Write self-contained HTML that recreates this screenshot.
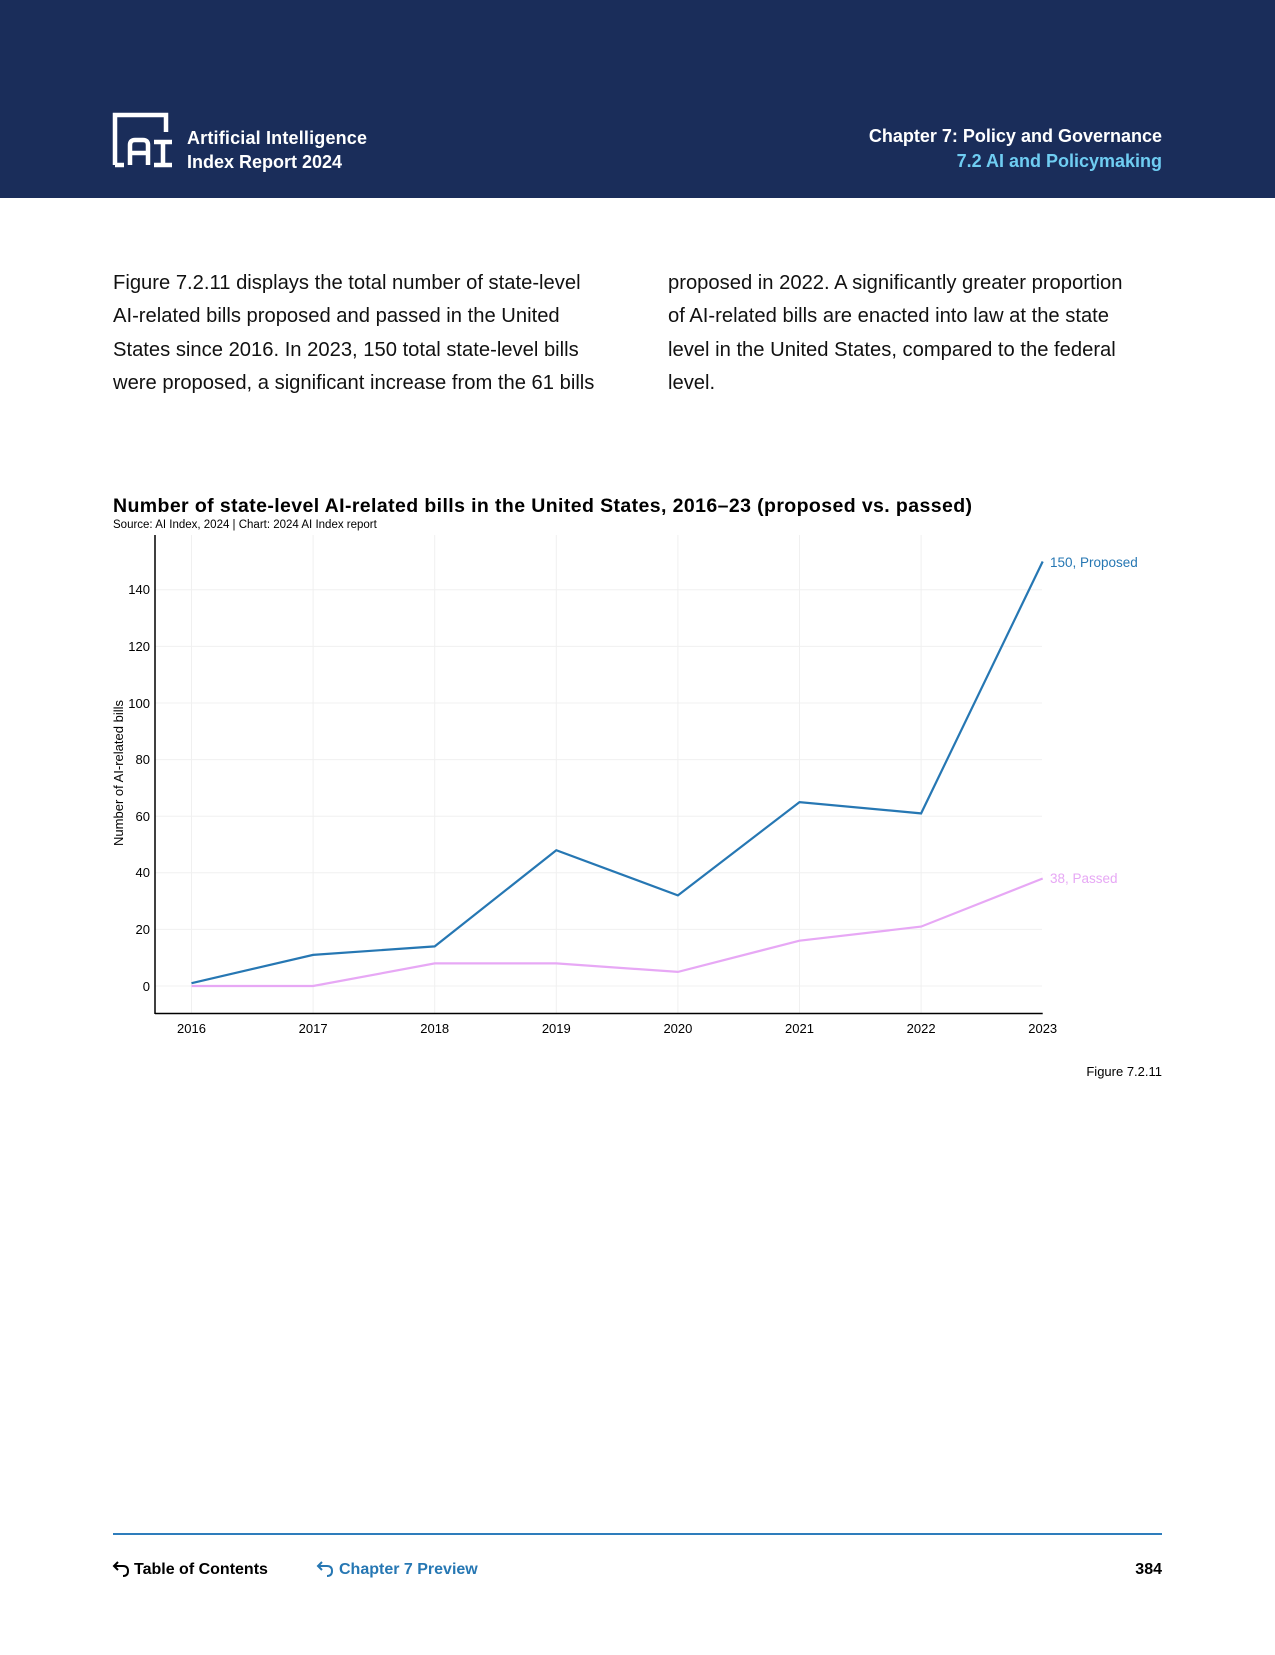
<!DOCTYPE html>
<html><head><meta charset="utf-8"><style>
html,body{margin:0;padding:0;background:#fff;}
body{width:1275px;height:1650px;overflow:hidden;font-family:"Liberation Sans",sans-serif;}
</style></head><body>
<svg width="1275" height="1650" viewBox="0 0 1275 1650" xmlns="http://www.w3.org/2000/svg" font-family="Liberation Sans, sans-serif">
<rect x="0" y="0" width="1275" height="198" fill="#1a2d5a"/>
<!-- logo -->
<g fill="none" stroke="#fff" stroke-width="4.5">
<path d="M115 165 V115 H166 V132"/>
<path d="M115 165 H124"/>
<path d="M130 165 V145 Q130 140 135 140 H143 Q148 140 148 145 V165 M130 153 H148"/>
<path d="M154 142 H172 M163 142 V165 M154 165 H172"/>
</g>
<text x="187" y="144" fill="#fff" font-size="18" font-weight="bold" textLength="180">Artificial Intelligence</text>
<text x="187" y="168" fill="#fff" font-size="18" font-weight="bold">Index Report 2024</text>
<text x="1162" y="142" fill="#fff" font-size="18" font-weight="bold" text-anchor="end">Chapter 7: Policy and Governance</text>
<text x="1162" y="167" fill="#6fcdf2" font-size="18" font-weight="bold" text-anchor="end">7.2 AI and Policymaking</text>

<g font-size="20.2" fill="#111">
<text x="113" y="289">Figure 7.2.11 displays the total number of state-level</text>
<text x="113" y="322">AI-related bills proposed and passed in the United</text>
<text x="113" y="356">States since 2016. In 2023, 150 total state-level bills</text>
<text x="113" y="389">were proposed, a significant increase from the 61 bills</text>
<text x="668" y="289">proposed in 2022. A significantly greater proportion</text>
<text x="668" y="322">of AI-related bills are enacted into law at the state</text>
<text x="668" y="356">level in the United States, compared to the federal</text>
<text x="668" y="389">level.</text>
</g>

<text x="113" y="512" font-size="19.5" font-weight="bold" fill="#000" textLength="859">Number of state-level AI-related bills in the United States, 2016–23 (proposed vs. passed)</text>
<text x="113" y="528" font-size="11.5" fill="#000">Source: AI Index, 2024 | Chart: 2024 AI Index report</text>

<!-- grid -->
<g stroke="#f0f0f0" stroke-width="1">
<line x1="155" x2="1042" y1="986" y2="986"/>
<line x1="155" x2="1042" y1="929.4" y2="929.4"/>
<line x1="155" x2="1042" y1="872.8" y2="872.8"/>
<line x1="155" x2="1042" y1="816.2" y2="816.2"/>
<line x1="155" x2="1042" y1="759.6" y2="759.6"/>
<line x1="155" x2="1042" y1="703" y2="703"/>
<line x1="155" x2="1042" y1="646.4" y2="646.4"/>
<line x1="155" x2="1042" y1="589.8" y2="589.8"/>
<line x1="191.5" x2="191.5" y1="535" y2="1013"/>
<line x1="313.1" x2="313.1" y1="535" y2="1013"/>
<line x1="434.7" x2="434.7" y1="535" y2="1013"/>
<line x1="556.3" x2="556.3" y1="535" y2="1013"/>
<line x1="677.9" x2="677.9" y1="535" y2="1013"/>
<line x1="799.5" x2="799.5" y1="535" y2="1013"/>
<line x1="921.1" x2="921.1" y1="535" y2="1013"/>
</g>
<g stroke="#000" stroke-width="1.5">
<line x1="155" x2="155" y1="535" y2="1014"/>
<line x1="155" x2="1042.7" y1="1013.5" y2="1013.5"/>
</g>
<g font-size="13" fill="#000" text-anchor="end">
<text x="150" y="991">0</text>
<text x="150" y="934">20</text>
<text x="150" y="877">40</text>
<text x="150" y="821">60</text>
<text x="150" y="764">80</text>
<text x="150" y="708">100</text>
<text x="150" y="651">120</text>
<text x="150" y="594">140</text>
</g>
<g font-size="13" fill="#000" text-anchor="middle">
<text x="191.5" y="1033">2016</text>
<text x="313.1" y="1033">2017</text>
<text x="434.7" y="1033">2018</text>
<text x="556.3" y="1033">2019</text>
<text x="677.9" y="1033">2020</text>
<text x="799.5" y="1033">2021</text>
<text x="921.1" y="1033">2022</text>
<text x="1042.7" y="1033">2023</text>
</g>
<text transform="translate(123,773) rotate(-90)" font-size="13" fill="#000" text-anchor="middle">Number of AI-related bills</text>

<polyline fill="none" stroke="#e7a8f5" stroke-width="2.2" points="191.5,986 313.1,986 434.7,963.4 556.3,963.4 677.9,971.9 799.5,940.7 921.1,926.6 1042.7,878.5"/>
<polyline fill="none" stroke="#2677b3" stroke-width="2.2" points="191.5,983.2 313.1,954.9 434.7,946.4 556.3,850.2 677.9,895.4 799.5,802.1 921.1,813.4 1042.7,561.5"/>
<text x="1050" y="567" font-size="13.5" fill="#2677b3">150, Proposed</text>
<text x="1050" y="883" font-size="13.5" fill="#e7a8f5">38, Passed</text>

<text x="1162" y="1076" font-size="13" fill="#000" text-anchor="end">Figure 7.2.11</text>

<line x1="113" x2="1162" y1="1534" y2="1534" stroke="#2e7dbc" stroke-width="2"/>
<path d="M118 1562 L114 1566 L118 1570 M114 1566 H123 Q128 1566 128 1571 Q128 1576 123 1576" fill="none" stroke="#000" stroke-width="2"/>
<text x="134" y="1574" font-size="16" font-weight="bold" fill="#000">Table of Contents</text>
<path d="M322 1562 L318 1566 L322 1570 M318 1566 H327 Q332 1566 332 1571 Q332 1576 327 1576" fill="none" stroke="#2677b3" stroke-width="2"/>
<text x="339" y="1574" font-size="16" font-weight="bold" fill="#2677b3">Chapter 7 Preview</text>
<text x="1162" y="1574" font-size="16" font-weight="bold" fill="#000" text-anchor="end">384</text>
</svg>
</body></html>
